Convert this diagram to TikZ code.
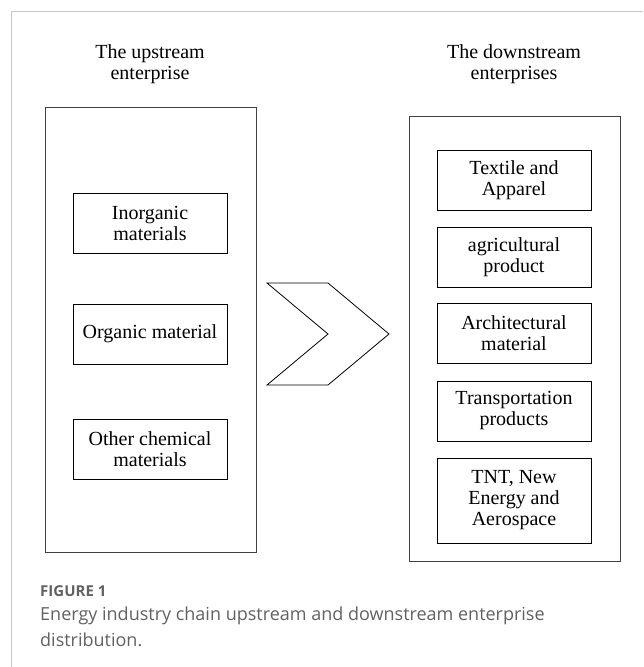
\documentclass[tikz,border=0pt]{standalone}
\usepackage{fontspec}
\setmainfont{Liberation Serif}
\newfontfamily\capfont{Open Sans}
\usetikzlibrary{positioning}

\begin{document}
\begin{tikzpicture}[
        x=1pt, y=-1pt, node distance=77pt, on grid,
        every node/.style={font=\fontsize{20}{21}\selectfont},
        bigbox/.style={draw=black!75, line width=1pt, minimum width=211pt, minimum height=445pt},
        itembox/.style={draw, line width=0.8pt, minimum width=154pt, minimum height=60pt, align=center, inner sep=0pt},
        heading/.style={align=center},
        captext/.style={inner sep=0pt, text=black!62, align=left},
        ]
        \useasboundingbox (0,0) rectangle (643,667);
        \draw[black!22, line width=1pt] (11,667) -- (11,11) -- (643,11);

        % the two groups
        \node[heading] (uptitle)   at (150,64) {The upstream\\enterprise};
        \node[heading] (downtitle) at (514,64) {The downstream\\enterprises};
        \node[bigbox] (up)   at (150.5,329.5) {};
        \node[bigbox] (down) at (514.5,338.5) {};

        \node[itembox] (inorg) at (150,223) {Inorganic\\materials};
        \node[itembox, below=111pt of inorg] (org) {Organic material};
        \node[itembox, below=115pt of org] (other) {Other chemical\\materials};

        \node[itembox] (textile) at (514,180) {Textile and\\Apparel};
        \node[itembox, below=of textile] (agri) {agricultural\\product};
        \node[itembox, below=76.5pt of agri] (arch) {Architectural\\material};
        \node[itembox, below=77.5pt of arch] (trans) {Transportation\\products};
        \node[itembox, below=89.5pt of trans, minimum height=85pt] (tnt) {TNT, New\\Energy and\\Aerospace};

        % chevron between them
        \draw[line width=0.8pt] (267,283) -- (328,283) -- (389,334) -- (328,385) -- (267,385) -- (328,334) -- cycle;

        \node[captext, anchor=base west, font=\capfont\fontsize{15}{18}\selectfont\bfseries] (figlabel) at (40,596) {FIGURE 1};
        \node[captext, anchor=north west, font=\capfont\fontsize{18}{26}\selectfont] (caption) at (40,607)
            {Energy industry chain upstream and downstream enterprise\\distribution.};
      \end{tikzpicture}
\end{document}
